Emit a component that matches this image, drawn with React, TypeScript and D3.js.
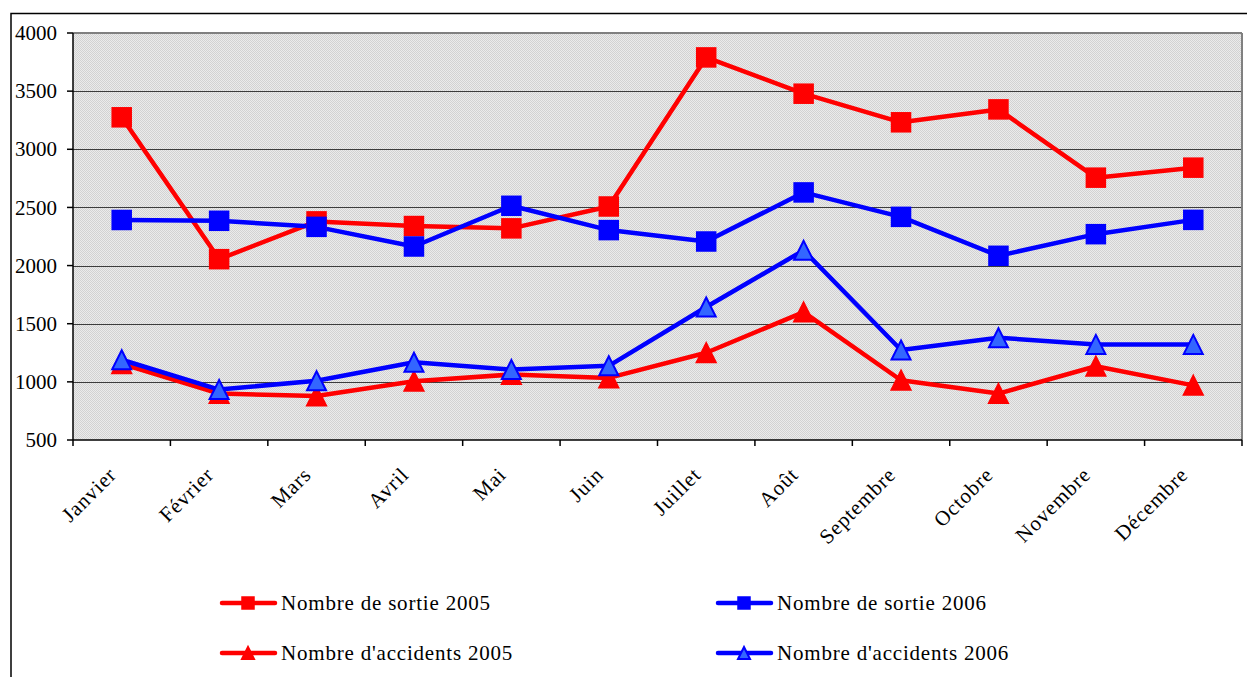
import React from "react";
import * as d3 from "d3";

const months = [
  "Janvier", "Février", "Mars", "Avril", "Mai", "Juin",
  "Juillet", "Août", "Septembre", "Octobre", "Novembre", "Décembre",
];

const sortie2005 = [3275, 2055, 2380, 2340, 2320, 2508, 3790, 3478, 3232, 3343, 2756, 2842];
const sortie2006 = [2392, 2385, 2333, 2164, 2514, 2305, 2207, 2629, 2419, 2084, 2270, 2393];
const accidents2005 = [1155, 900, 878, 1005, 1063, 1034, 1250, 1600, 1014, 899, 1134, 970];
const accidents2006 = [1190, 934, 1010, 1169, 1106, 1138, 1644, 2131, 1274, 1379, 1322, 1322];

const yTicks = [500, 1000, 1500, 2000, 2500, 3000, 3500, 4000];

const seriesNames = [
  "Nombre de sortie 2005",
  "Nombre de sortie 2006",
  "Nombre d'accidents 2005",
  "Nombre d'accidents 2006",
];

const W = 1247;
const H = 677;
const plot = { left: 73, top: 33, right: 1242, bottom: 440 };
const FONT = "'Liberation Serif', 'DejaVu Serif', serif";
const FS = 21;

type Series = {
  name: string;
  values: number[];
  color: string;
  fill: string;
  marker: "square" | "triangle";
};

const series: Series[] = [
  { name: seriesNames[0], values: sortie2005, color: "#ff0000", fill: "#ff0000", marker: "square" },
  { name: seriesNames[1], values: sortie2006, color: "#0000ff", fill: "#0000ff", marker: "square" },
  { name: seriesNames[2], values: accidents2005, color: "#ff0000", fill: "#ff0000", marker: "triangle" },
  { name: seriesNames[3], values: accidents2006, color: "#0000ff", fill: "#3366ff", marker: "triangle" },
];

function Marker({ kind, x, y, color, fill, size }: { kind: string; x: number; y: number; color: string; fill: string; size: number }) {
  if (kind === "square") {
    const s = size - 2;
    return <rect x={x - s / 2} y={y - s / 2} width={s} height={s} fill={fill} stroke={color} strokeWidth={1.5} />;
  }
  const h = size - 2;
  const pts = [
    [x, y - h / 2],
    [x + h / 2, y + h / 2],
    [x - h / 2, y + h / 2],
  ];
  return <polygon points={pts.map((p) => p.join(",")).join(" ")} fill={fill} stroke={color} strokeWidth={2} strokeLinejoin="miter" />;
}

export default function App() {
  const x = d3.scaleBand<string>().domain(months).range([plot.left, plot.right]);
  const y = d3.scaleLinear().domain([500, 4000]).range([plot.bottom, plot.top]);
  const cx = (m: string) => (x(m) as number) + x.bandwidth() / 2;

  const line = d3
    .line<number>()
    .x((_, i) => cx(months[i]))
    .y((v) => y(v));

  // Legend layout: two columns, two rows
  const legendItems = [
    { s: series[0], lx: 220, ly: 603 },
    { s: series[1], lx: 716, ly: 603 },
    { s: series[2], lx: 220, ly: 653 },
    { s: series[3], lx: 716, ly: 653 },
  ];

  return (
    <svg
      width={W}
      height={H}
      style={{ position: "absolute", left: 0, top: 0, display: "block", background: "#fff" }}
    >
      <defs>
        <pattern id="dots" width={2} height={2} patternUnits="userSpaceOnUse">
          <rect width={2} height={2} fill="#ebebeb" />
          <rect width={1} height={1} fill="#d2d2d2" />
          <rect x={1} y={1} width={1} height={1} fill="#d2d2d2" />
        </pattern>
        <clipPath id="plotClip">
          <rect x={plot.left} y={plot.top - 12} width={plot.right - plot.left + 12} height={plot.bottom - plot.top + 24} />
        </clipPath>
      </defs>

      {/* chart frame */}
      <rect x={11} y={13.5} width={1240} height={700} fill="none" stroke="#000" strokeWidth={1.5} />

      {/* plot background */}
      <rect x={plot.left} y={plot.top} width={plot.right - plot.left} height={plot.bottom - plot.top} fill="url(#dots)" />

      {/* gridlines */}
      {yTicks.slice(1, -1).map((t) => (
        <line key={t} x1={plot.left} x2={plot.right} y1={Math.round(y(t)) + 0.5} y2={Math.round(y(t)) + 0.5} stroke="#3c3c3c" strokeWidth={1} />
      ))}

      {/* plot border: top and right in gray */}
      <line x1={plot.left} x2={plot.right} y1={plot.top} y2={plot.top} stroke="#808080" strokeWidth={2} />
      <line x1={plot.right} x2={plot.right} y1={plot.top} y2={plot.bottom} stroke="#808080" strokeWidth={2} />

      {/* y axis */}
      <line x1={plot.left} x2={plot.left} y1={plot.top} y2={plot.bottom} stroke="#000" strokeWidth={1.5} />
      {yTicks.map((t) => (
        <g key={t}>
          <line x1={plot.left - 6} x2={plot.left} y1={y(t)} y2={y(t)} stroke="#000" strokeWidth={1.5} />
          <text x={57} y={y(t)} dy="0.34em" textAnchor="end" fontFamily={FONT} fontSize={FS} fill="#000">
            {t}
          </text>
        </g>
      ))}

      {/* x axis */}
      <line x1={plot.left} x2={plot.right} y1={plot.bottom} y2={plot.bottom} stroke="#000" strokeWidth={1.5} />
      {months.map((m) => (
        <line key={m} x1={x(m) as number} x2={x(m) as number} y1={plot.bottom} y2={plot.bottom + 6} stroke="#000" strokeWidth={1.5} />
      ))}
      <line x1={plot.right} x2={plot.right} y1={plot.bottom} y2={plot.bottom + 6} stroke="#000" strokeWidth={1.5} />
      {months.map((m) => (
        <text
          key={m}
          transform={`translate(${cx(m) - 4},${plot.bottom + 36}) rotate(-45)`}
          textAnchor="end"
          fontFamily={FONT}
          fontSize={FS}
          letterSpacing={0.9}
          fill="#000"
        >
          {m}
        </text>
      ))}

      {/* series */}
      <g clipPath="url(#plotClip)">
        {series.map((s) => (
          <path key={s.name} d={line(s.values) || ""} fill="none" stroke={s.color} strokeWidth={4.5} strokeLinejoin="round" />
        ))}
        {series.map((s) =>
          s.values.map((v, i) => (
            <Marker key={s.name + i} kind={s.marker} x={cx(months[i])} y={y(v)} color={s.color} fill={s.fill} size={21} />
          ))
        )}
      </g>

      {/* legend */}
      {legendItems.map(({ s, lx, ly }) => (
        <g key={s.name}>
          <line x1={lx + 2} x2={lx + 55} y1={ly} y2={ly} stroke={s.color} strokeWidth={4.5} strokeLinecap="round" />
          <Marker kind={s.marker} x={lx + 28} y={ly} color={s.color} fill={s.fill} size={14} />
          <text x={lx + 61} y={ly} dy="0.35em" fontFamily={FONT} fontSize={FS} letterSpacing={0.8} fill="#000">
            {s.name}
          </text>
        </g>
      ))}
    </svg>
  );
}
